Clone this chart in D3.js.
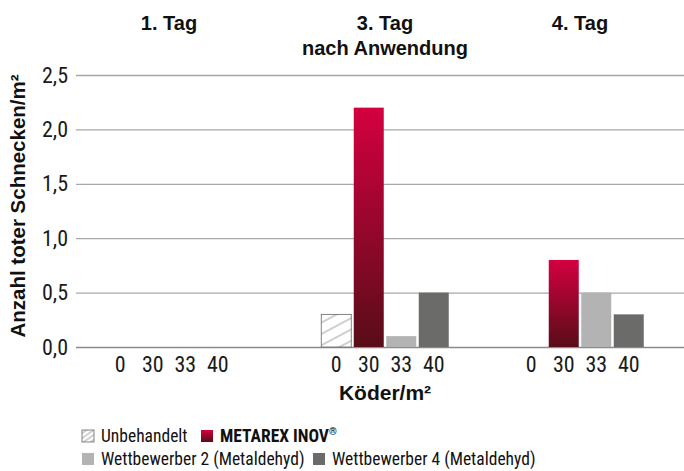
<!DOCTYPE html>
<html><head><meta charset="utf-8">
<script src="https://cdn.jsdelivr.net/npm/d3@7"></script>
<style>
body{margin:0;background:#fff;}
text{font-family:"Roboto Condensed","Liberation Sans Narrow","Liberation Sans",sans-serif;}
.bt{font-family:"Liberation Sans",Arial,sans-serif;font-weight:bold;}
</style></head><body>
<svg id="c" width="684" height="471"></svg>
<script>
const days = ["1. Tag", "3. Tag|nach Anwendung", "4. Tag"];
const doses = ["0", "30", "33", "40"];
const unbehandelt = [0, 0.3, 0];
const metarex = [0, 2.2, 0.8];
const wett2 = [0, 0.1, 0.5];
const wett4 = [0, 0.5, 0.3];
const yTicks = [0, 0.5, 1.0, 1.5, 2.0, 2.5];
const seriesNames = ["Unbehandelt", "METAREX INOV", "Wettbewerber 2 (Metaldehyd)", "Wettbewerber 4 (Metaldehyd)"];
const seriesData = [unbehandelt, metarex, wett2, wett4];

const svg = d3.select("#c");
const defs = svg.append("defs");
const grad = defs.append("linearGradient").attr("id","mg").attr("x1",0).attr("y1",0).attr("x2",0).attr("y2",1);
grad.append("stop").attr("offset","0%").attr("stop-color","#d40040");
grad.append("stop").attr("offset","100%").attr("stop-color","#580d18");
const pat = defs.append("pattern").attr("id","hatch").attr("patternUnits","userSpaceOnUse")
  .attr("width",10).attr("height",10).attr("patternTransform","rotate(-28)");
pat.append("rect").attr("width",10).attr("height",10).attr("fill","#fff");
pat.append("line").attr("x1",0).attr("y1",5).attr("x2",10).attr("y2",5).attr("stroke","#888").attr("stroke-width",0.8);
const patL = defs.append("pattern").attr("id","hatchS").attr("patternUnits","userSpaceOnUse")
  .attr("width",4).attr("height",4).attr("patternTransform","rotate(-35)");
patL.append("rect").attr("width",4).attr("height",4).attr("fill","#fff");
patL.append("line").attr("x1",0).attr("y1",2).attr("x2",4).attr("y2",2).attr("stroke","#777").attr("stroke-width",0.7);

const fills = ["url(#hatch)", "url(#mg)", "#b3b3b3", "#6b6b6a"];
const legFills = ["url(#hatchS)", "url(#mg)", "#b3b3b3", "#6b6b6a"];

const mLeft = 76, mRight = 684, mTop = 75, mBottom = 347;
const y = d3.scaleLinear().domain([0, 2.5]).range([mBottom, mTop]);
const xDay = d3.scaleOrdinal().domain(days).range([169, 385, 580]);
const xIn = d3.scaleBand().domain(doses).range([-65, 65]).paddingInner(0.077).paddingOuter(0.0385);

const ya = svg.append("g").attr("transform", `translate(${mLeft},0)`)
  .call(d3.axisLeft(y).tickValues(yTicks).tickSize(-(mRight-mLeft)).tickPadding(8)
    .tickFormat(d => d.toFixed(1).replace(".", ",")));
ya.select(".domain").remove();
ya.selectAll(".tick line").attr("stroke", d => d === 0 ? "#8a8a8a" : "#a8a8a8").attr("stroke-width", 1.3);
ya.selectAll(".tick text").attr("font-size", 22).attr("fill", "#1a1a1a");

days.forEach((day, di) => {
  const g = svg.append("g").attr("transform", `translate(${xDay(day)},0)`);
  doses.forEach((dose, si) => {
    const v = seriesData[si][di];
    if (v > 0) {
      g.append("rect").attr("x", xIn(dose)).attr("width", xIn.bandwidth())
        .attr("y", y(v)).attr("height", y(0) - y(v))
        .attr("fill", fills[si])
        .attr("stroke", si === 0 ? "#666" : "none").attr("stroke-width", 0.8);
    }
  });
  const xa = g.append("g").attr("transform", `translate(0,${mBottom})`)
    .call(d3.axisBottom(xIn).tickSize(0).tickPadding(0));
  xa.select(".domain").remove();
  xa.selectAll(".tick text").attr("font-size", 22).attr("fill", "#1a1a1a").attr("dy", null).attr("y", 25);
  const parts = day.split("|");
  parts.forEach((p, i) => {
    svg.append("text").attr("class","bt").attr("x", xDay(day)).attr("y", 30 + i * 25)
      .attr("text-anchor", "middle").attr("font-size", 20)
      .attr("fill", "#111").text(p);
  });
});

svg.append("text").attr("class","bt").attr("x", xDay(days[1])).attr("y", 400).attr("text-anchor","middle")
  .attr("font-size", 21).attr("fill","#111").text("Köder/m²");
svg.append("text").attr("class","bt").attr("transform", "translate(25,206) rotate(-90)").attr("text-anchor","middle")
  .attr("font-size", 20.5).attr("fill","#111").text("Anzahl toter Schnecken/m²");

const legPos = [[82, 436], [201, 436], [82, 459], [313, 459]];
seriesNames.forEach((n, i) => {
  const [lx, ly] = legPos[i];
  svg.append("rect").attr("x", lx).attr("y", ly - 6).attr("width", 12).attr("height", 12)
    .attr("fill", legFills[i]).attr("stroke", i === 0 ? "#666" : "none").attr("stroke-width", 0.8);
  const t = svg.append("text").attr("x", lx + 19).attr("y", ly + 6).attr("font-size", 17.5)
    .attr("font-weight", i === 1 ? "bold" : "normal").attr("fill", "#111").text(n);
  if (i === 1) t.append("tspan").attr("font-size", 10).attr("dy", -7).text("®");
});
</script></body></html>
